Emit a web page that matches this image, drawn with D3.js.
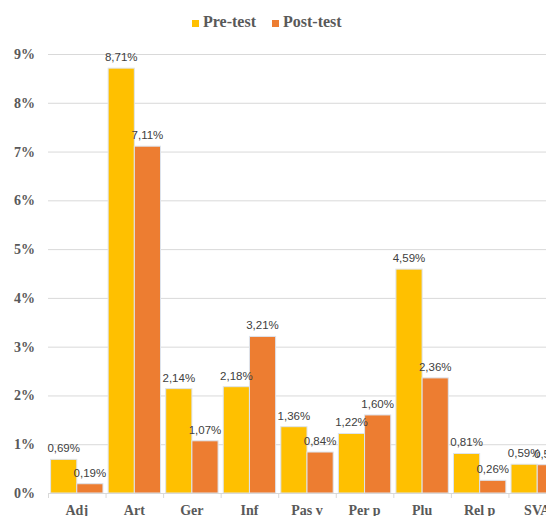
<!DOCTYPE html>
<html>
<head>
<meta charset="utf-8">
<script src="https://cdn.jsdelivr.net/npm/d3@7"></script>
<style>
  body { margin: 0; background: #fff; }
  svg { display: block; }
</style>
</head>
<body>
<svg></svg>
<script>
// Categories and values (percent)
const categories = ["Adj", "Art", "Ger", "Inf", "Pas v", "Per p", "Plu", "Rel p", "SVA"];
const preTest  = [0.69, 8.71, 2.14, 2.18, 1.36, 1.22, 4.59, 0.81, 0.59];
const postTest = [0.19, 7.11, 1.07, 3.21, 0.84, 1.60, 2.36, 0.26, 0.58];
const seriesNames = ["Pre-test", "Post-test"];
const yTicks = [0, 1, 2, 3, 4, 5, 6, 7, 8, 9];

const colors = ["#FFC000", "#ED7D31"];
const width = 546, height = 516;

// plot area (runs past the right edge, like the cropped original)
const margin = { top: 54, left: 48 };
const plotW = 518, plotH = 439;

const svg = d3.select("svg")
  .attr("width", width)
  .attr("height", height);

const g = svg.append("g")
  .attr("transform", "translate(" + margin.left + "," + margin.top + ")");

const x = d3.scaleBand()
  .domain(categories)
  .range([0, plotW])
  .paddingInner(0.09)
  .paddingOuter(0.045);

const x1 = d3.scaleBand()
  .domain(seriesNames)
  .range([0, x.bandwidth()]);

const y = d3.scaleLinear()
  .domain([0, 9])
  .range([plotH, 0]);

// gridlines
g.append("g")
  .selectAll("line")
  .data(yTicks.slice(1))
  .join("line")
    .attr("x1", 0)
    .attr("x2", plotW)
    .attr("y1", d => y(d) + 0.5)
    .attr("y2", d => y(d) + 0.5)
    .attr("stroke", "#d9d9d9")
    .attr("stroke-width", 1);

// y labels
g.append("g")
  .selectAll("text")
  .data(yTicks)
  .join("text")
    .attr("x", -13)
    .attr("y", d => y(d) + 5)
    .attr("text-anchor", "end")
    .attr("font-family", "Liberation Serif, Times New Roman, serif")
    .attr("font-weight", "bold")
    .attr("font-size", 14)
    .attr("fill", "#595959")
    .text(d => d + "%");

// bars
const rows = categories.map((c, i) => ({ cat: c, vals: [preTest[i], postTest[i]] }));

const groups = g.append("g")
  .selectAll("g")
  .data(rows)
  .join("g")
    .attr("transform", d => "translate(" + x(d.cat) + ",0)");

groups.selectAll("rect")
  .data(d => d.vals.map((v, k) => ({ name: seriesNames[k], v: v, k: k })))
  .join("rect")
    .attr("x", d => x1(d.name))
    .attr("y", d => y(d.v))
    .attr("width", x1.bandwidth())
    .attr("height", d => plotH - y(d.v))
    .attr("fill", d => colors[d.k])
    .attr("stroke", "#dde4ee")
    .attr("stroke-width", 1);

// data labels
groups.selectAll("text")
  .data(d => d.vals.map((v, k) => ({ name: seriesNames[k], v: v, k: k })))
  .join("text")
    .attr("x", d => x1(d.name) + x1.bandwidth() / 2)
    .attr("y", d => y(d.v) - 7)
    .attr("text-anchor", "middle")
    .attr("font-family", "Liberation Sans, Arial, sans-serif")
    .attr("font-size", 11.5)
    .attr("fill", "#404040")
    .text(d => d.v.toFixed(2).replace(".", ",") + "%");

// x axis line and ticks
g.append("line")
  .attr("x1", 0).attr("x2", plotW)
  .attr("y1", plotH + 0.5).attr("y2", plotH + 0.5)
  .attr("stroke", "#d9d9d9");

const bounds = d3.range(categories.length + 1).map(i => i * plotW / categories.length);
g.append("g")
  .selectAll("line")
  .data(bounds)
  .join("line")
    .attr("x1", d => d + 0.5).attr("x2", d => d + 0.5)
    .attr("y1", plotH).attr("y2", plotH + 5)
    .attr("stroke", "#d9d9d9");

g.append("g")
  .selectAll("text")
  .data(categories)
  .join("text")
    .attr("x", d => x(d) + x.bandwidth() / 2)
    .attr("y", plotH + 22)
    .attr("text-anchor", "middle")
    .attr("font-family", "Liberation Serif, Times New Roman, serif")
    .attr("font-weight", "bold")
    .attr("font-size", 14)
    .attr("fill", "#595959")
    .text(d => d);

// legend
const legendX = [192, 272];
const legend = svg.append("g")
  .selectAll("g")
  .data(seriesNames)
  .join("g")
    .attr("transform", (d, i) => "translate(" + legendX[i] + ",0)");

legend.append("rect")
  .attr("x", 0).attr("y", 20)
  .attr("width", 7).attr("height", 7)
  .attr("fill", (d, i) => colors[i]);

legend.append("text")
  .attr("x", 11)
  .attr("y", 27)
  .attr("font-family", "Liberation Serif, Times New Roman, serif")
  .attr("font-weight", "bold")
  .attr("font-size", 16)
  .attr("fill", "#595959")
  .text(d => d);
</script>
</body>
</html>
